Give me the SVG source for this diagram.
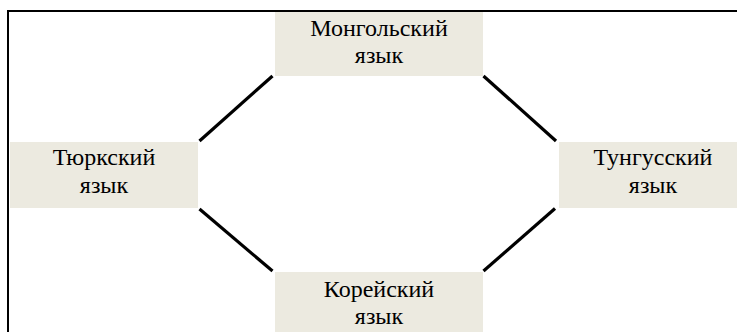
<svg xmlns="http://www.w3.org/2000/svg" width="737" height="332" viewBox="0 0 737 332">
<style>
.box{fill:#ECEAE0;stroke:none}
.lbl{font-family:"Liberation Serif","Times New Roman",serif;font-size:24px;fill:#000;text-anchor:middle}
.conn{stroke:#000;stroke-width:3.2;stroke-linecap:butt}
</style>
<rect x="0" y="0" width="737" height="332" fill="#fff"/>
<rect x="8" y="11" width="740" height="330" fill="none" stroke="#000" stroke-width="2"/>
<g id="connectors">
<line class="conn" x1="199.5" y1="141" x2="272.5" y2="76"/>
<line class="conn" x1="483.5" y1="76" x2="556" y2="141"/>
<line class="conn" x1="199.5" y1="209" x2="272.5" y2="271"/>
<line class="conn" x1="483.5" y1="271" x2="555" y2="208.5"/>
</g>
<g id="mongolian">
<rect class="box" x="275" y="12" width="208" height="64"/>
<text class="lbl" x="379" y="35.5">Монгольский</text>
<text class="lbl" x="379" y="63">язык</text>
</g>
<g id="turkic">
<rect class="box" x="10" y="142" width="188" height="66"/>
<text class="lbl" x="104" y="165">Тюркский</text>
<text class="lbl" x="104" y="193">язык</text>
</g>
<g id="tungusic">
<rect class="box" x="559" y="142" width="188" height="66"/>
<text class="lbl" x="653" y="165">Тунгусский</text>
<text class="lbl" x="653" y="193">язык</text>
</g>
<g id="korean">
<rect class="box" x="275" y="272" width="208" height="66"/>
<text class="lbl" x="379" y="296.5">Корейский</text>
<text class="lbl" x="379" y="323.5">язык</text>
</g>
</svg>
